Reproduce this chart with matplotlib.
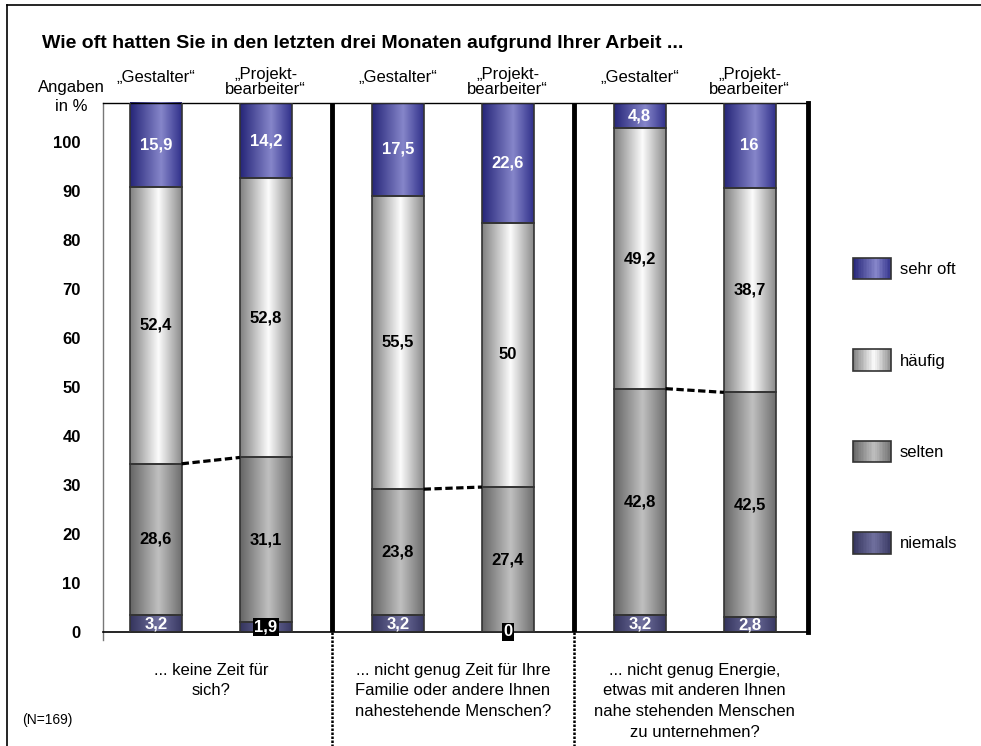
import matplotlib
matplotlib.use("Agg")
import matplotlib.pyplot as plt
import numpy as np
from matplotlib.colors import LinearSegmentedColormap
from matplotlib.patches import Rectangle, Patch
from matplotlib.lines import Line2D
from matplotlib.legend_handler import HandlerBase

plt.rcParams['font.family'] = ['Liberation Sans', 'DejaVu Sans']

# ---------------- data ----------------
bar_labels = ["„Gestalter“", "„Projekt-\nbearbeiter“", "„Gestalter“", "„Projekt-\nbearbeiter“",
              "„Gestalter“", "„Projekt-\nbearbeiter“"]
group_labels = ["... keine Zeit für\nsich?",
                "... nicht genug Zeit für Ihre\nFamilie oder andere Ihnen\nnahestehende Menschen?",
                "... nicht genug Energie,\netwas mit anderen Ihnen\nnahe stehenden Menschen\nzu unternehmen?"]
series_names = ["niemals", "selten", "häufig", "sehr oft"]
niemals = [3.2, 1.9, 3.2, 0.0, 3.2, 2.8]
selten = [28.6, 31.1, 23.8, 27.4, 42.8, 42.5]
haeufig = [52.4, 52.8, 55.5, 50.0, 49.2, 38.7]
sehr_oft = [15.9, 14.2, 17.5, 22.6, 4.8, 16.0]
tick_values = [0, 10, 20, 30, 40, 50, 60, 70, 80, 90, 100]

# ---------------- style ----------------
x = np.array([0, 1, 2.2, 3.2, 4.4, 5.4])
width = 0.47
cmaps = {
    "sehr oft": LinearSegmentedColormap.from_list("so", [(0, "#252578"), (0.6, "#8686ca"), (1, "#30308a")]),
    "häufig": LinearSegmentedColormap.from_list("hf", [(0, "#808080"), (0.55, "#fcfcfc"), (1, "#8a8a8a")]),
    "selten": LinearSegmentedColormap.from_list("se", [(0, "#656565"), (0.55, "#c0c0c0"), (1, "#6e6e6e")]),
    "niemals": LinearSegmentedColormap.from_list("ni", [(0, "#34345d"), (0.55, "#70709e"), (1, "#383862")]),
}
text_colors = {"sehr oft": "white", "häufig": "black", "selten": "black", "niemals": "white"}

fig = plt.figure(figsize=(9.81, 7.46), dpi=100)
ax = fig.add_axes([103/981, 1-632/746, (808-103)/981, (632-103)/746])

grad = np.linspace(0, 1, 256).reshape(1, -1)
series = {"niemals": niemals, "selten": selten, "häufig": haeufig, "sehr oft": sehr_oft}
bottom = np.zeros(len(x))
tops = {}
for name in series_names:
    vals = np.array(series[name])
    bars = ax.bar(x, vals, width, bottom=bottom, facecolor="none", edgecolor="#333333",
                  linewidth=1.2, zorder=3)
    for xi, b, v, patch in zip(x, bottom, vals, bars):
        if v > 0:
            im = ax.imshow(grad, extent=[xi - width/2, xi + width/2, b, b + v],
                           cmap=cmaps[name], aspect="auto", zorder=2, interpolation="bilinear")
            im.set_clip_path(patch)
        label = f"{v:g}".replace(".", ",")
        if v < 2:
            ax.text(xi, b + v/2, label, ha="center", va="center", color="white",
                    fontsize=12, fontweight="bold", zorder=5,
                    bbox=dict(boxstyle="square,pad=0.1", fc="black", ec="none"))
        else:
            ax.text(xi, b + v/2, label, ha="center", va="center", color=text_colors[name],
                    fontsize=12, fontweight="bold", zorder=5)
    bottom = bottom + vals
    tops[name] = bottom.copy()

# dashed connectors between selten tops
for g in range(3):
    i, j = 2*g, 2*g + 1
    ax.plot([x[i] + width/2, x[j] - width/2], [tops["selten"][i], tops["selten"][j]],
            color="black", lw=2.3, dashes=(2.3, 1.1), zorder=4, solid_capstyle="butt")

ax.set_xlim(-0.48, 5.93)
ax.set_ylim(0, 100)

# axes styling
ax.set_xticks([])
ax.set_yticks([])
ax.spines["left"].set_color("#777777")
ax.spines["left"].set_linewidth(1.0)
ax.spines["left"].set_bounds(-1.5, 100)
ax.spines["bottom"].set_linewidth(1.2)
ax.spines["top"].set_linewidth(1.0)
ax.spines["right"].set_linewidth(3.5)

# group separators
for sx in [1.6, 3.8]:
    ax.axvline(sx, color="black", lw=3.5, zorder=1)
    ax.plot([sx, sx], [0, -0.2155], transform=ax.get_xaxis_transform(), color="black",
            lw=1.8, ls=(0, (1, 0.6)), clip_on=False)

# secondary axis carrying the (offset) percentage scale
sec = ax.secondary_yaxis("left", functions=(lambda y: y * 1.08, lambda y: y / 1.08))
sec.set_yticks(tick_values)
sec.set_yticklabels([str(t) for t in tick_values], fontsize=12, fontweight="bold")
sec.tick_params(length=0, pad=16)
sec.spines["left"].set_visible(False)

# bar column labels
for xi, lab in zip(x, bar_labels):
    yy = 1.040 if "\n" in lab else 1.049
    ax.text(xi, yy, lab, transform=ax.get_xaxis_transform(), ha="center", va="center",
            fontsize=12, linespacing=1.0)

# group labels below
for g in range(3):
    cx = (x[2*g] + x[2*g+1]) / 2
    ax.text(cx, -0.058, group_labels[g], transform=ax.get_xaxis_transform(), ha="center",
            va="top", fontsize=12, linespacing=1.48)

# titles and annotations
fig.text(42/981, 1-44/746, "Wie oft hatten Sie in den letzten drei Monaten aufgrund Ihrer Arbeit ...",
         ha="left", va="center", fontsize=14, fontweight="bold")
fig.text(71/981, 1-97/746, "Angaben\nin %", ha="center", va="center", fontsize=12, linespacing=1.3)
fig.text(22/981, 1-720/746, "(N=169)", ha="left", va="center", fontsize=10)

# outer frame lines
fig.add_artist(Line2D([7/981, 1], [1-5/746, 1-5/746], color="black", lw=1.2, transform=fig.transFigure))
fig.add_artist(Line2D([7/981, 7/981], [0, 1-5/746], color="black", lw=1.2, transform=fig.transFigure))


class GradHandler(HandlerBase):
    def __init__(self, cmap):
        super().__init__()
        self.cmap = cmap

    def create_artists(self, legend, orig_handle, xdescent, ydescent, width, height, fontsize, trans):
        arts = []
        n = 24
        for k in range(n):
            r = Rectangle((-xdescent + k*width/n, -ydescent), width/n*1.05, height,
                          facecolor=self.cmap((k + 0.5)/n), edgecolor="none", transform=trans,
                          antialiased=False)
            arts.append(r)
        arts.append(Rectangle((-xdescent, -ydescent), width, height, facecolor="none",
                              edgecolor="#333333", lw=1.2, transform=trans))
        return arts


leg_order = ["sehr oft", "häufig", "selten", "niemals"]
handles = [Patch(label=n) for n in leg_order]
hmap = {h: GradHandler(cmaps[n]) for h, n in zip(handles, leg_order)}
fig.legend(handles=handles, labels=leg_order, handler_map=hmap, loc="upper left",
           bbox_to_anchor=(853/981, 1-258/746), bbox_transform=fig.transFigure,
           frameon=False, fontsize=12, handlelength=2.3, handleheight=1.6,
           labelspacing=4.2, handletextpad=0.5, borderpad=0, borderaxespad=0)

fig.savefig("out.png", dpi=100)
